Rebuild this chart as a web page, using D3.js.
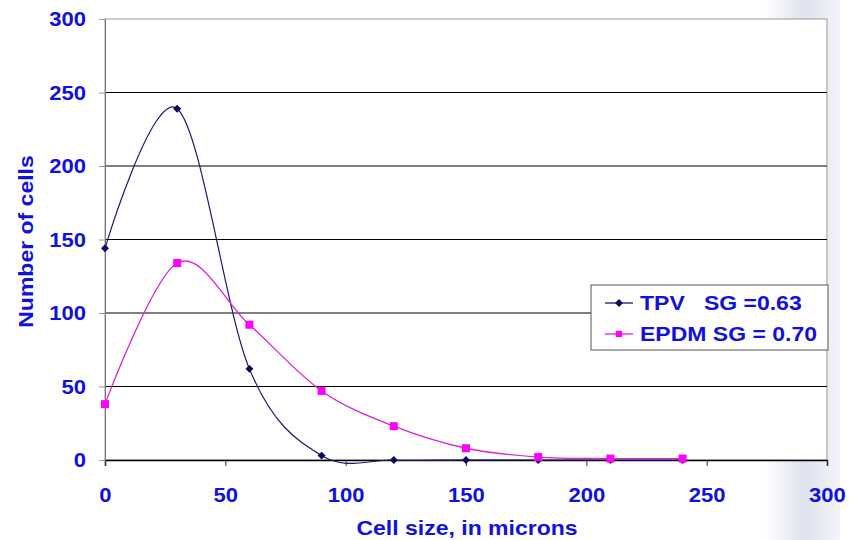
<!DOCTYPE html>
<html>
<head>
<meta charset="utf-8">
<style>
  body { margin: 0; background: #fff; }
  svg text { font-family: "Liberation Sans", Arial, sans-serif; font-weight: bold; fill: #1010e0; }
</style>
<script src="https://d3js.org/d3.v7.min.js"></script>
</head>
<body>
<svg width="850" height="540"></svg>
<script>
    // data
    var sizes = [0, 30, 60, 90, 120, 150, 180, 210, 240];
    var tpvValues = [144, 239, 62, 3, 0, 0, 0, 0, 0];
    var epdmValues = [38, 134, 92, 47, 23, 8, 2, 1, 1];
    var xTicks = [0, 50, 100, 150, 200, 250, 300];
    var yTicks = [0, 50, 100, 150, 200, 250, 300];
    var seriesNames = ["TPV   SG =0.63", "EPDM SG = 0.70"];

    var svg = d3.select("svg");
    var plotL = 105, plotR = 827, plotT = 19, plotB = 460;
    var stretch = 1.15; // title/legend text in the picture is a bit wide
    var tickStretch = 1.05;

    var x = d3.scaleLinear().domain([0, 300]).range([plotL, plotR]);
    var y = d3.scaleLinear().domain([0, 300]).range([plotB, plotT]);

    // faint watermark band on the right
    var grad = svg.append("defs").append("linearGradient")
        .attr("id", "wm").attr("x1", 0).attr("x2", 1);
    grad.append("stop").attr("offset", "0%").attr("stop-color", "#fff");
    grad.append("stop").attr("offset", "50%").attr("stop-color", "#dde2ee");
    grad.append("stop").attr("offset", "100%").attr("stop-color", "#f4f5f9");
    svg.append("rect").attr("x", 765).attr("y", 0).attr("width", 75).attr("height", 540)
        .attr("fill", "url(#wm)");

    // plot area
    svg.append("rect")
        .attr("x", plotL).attr("y", plotT)
        .attr("width", plotR - plotL).attr("height", plotB - plotT)
        .attr("fill", "#fff").attr("stroke", "#999").attr("stroke-width", 1);

    // gridlines
    svg.append("g").selectAll("line")
        .data(yTicks.filter(function (d) { return d > 0 && d < 300; }))
        .enter().append("line")
        .attr("x1", plotL).attr("x2", plotR)
        .attr("y1", function (d) { return y(d); })
        .attr("y2", function (d) { return y(d); })
        .attr("stroke", "#000").attr("stroke-width", 1);

    // axes
    var gx = svg.append("g")
        .attr("transform", "translate(0," + plotB + ")")
        .call(d3.axisBottom(x).tickValues(xTicks).tickSize(6).tickPadding(21));
    gx.select(".domain").attr("stroke", "#000").attr("stroke-width", 1.5);
    gx.selectAll(".tick line").attr("stroke", "#333");
    gx.selectAll("text").attr("font-size", "21px").attr("fill", "#1010e0")
        .attr("transform", "scale(" + tickStretch + ",1)");

    var gy = svg.append("g")
        .attr("transform", "translate(" + plotL + ",0)")
        .call(d3.axisLeft(y).tickValues(yTicks).tickSize(6).tickPadding(14));
    gy.select(".domain").attr("stroke", "#777");
    gy.selectAll(".tick line").attr("stroke", "#999");
    gy.selectAll("text").attr("font-size", "21px").attr("fill", "#1010e0")
        .attr("x", -19 / tickStretch)
        .attr("transform", "scale(" + tickStretch + ",1)");
    svg.selectAll(".domain").attr("fill", "none");

    svg.append("text")
        .attr("transform", "translate(33," + ((plotT + plotB) / 2 + 2) + ") rotate(-90) scale(" + stretch + ",1)")
        .attr("text-anchor", "middle")
        .attr("font-size", "20px")
        .text("Number of cells");
    svg.append("text")
        .attr("transform", "translate(" + ((plotL + plotR) / 2 + 1) + ",535) scale(" + stretch + ",1)")
        .attr("text-anchor", "middle")
        .attr("font-size", "20px")
        .text("Cell size, in microns");

    // smoothed series
    var line = d3.line()
        .x(function (d) { return x(d[0]); })
        .y(function (d) { return y(d[1]); })
        .curve(d3.curveCardinal.tension(0));

    var tpv = sizes.map(function (s, i) { return [s, tpvValues[i]]; });
    var epdm = sizes.map(function (s, i) { return [s, epdmValues[i]]; });

    svg.append("path").datum(tpv).attr("d", line)
        .attr("fill", "none").attr("stroke", "#1a1a70").attr("stroke-width", 1.2);
    svg.append("path").datum(epdm).attr("d", line)
        .attr("fill", "none").attr("stroke", "#e020d8").attr("stroke-width", 1.3);

    var diamond = d3.symbol().type(d3.symbolDiamond2).size(40);
    svg.append("g").selectAll("path")
        .data(tpv).enter().append("path")
        .attr("d", diamond)
        .attr("transform", function (d) { return "translate(" + x(d[0]) + "," + y(d[1]) + ")"; })
        .attr("fill", "#0a0a5a");
    svg.append("g").selectAll("rect")
        .data(epdm).enter().append("rect")
        .attr("x", function (d) { return x(d[0]) - 4; })
        .attr("y", function (d) { return y(d[1]) - 4; })
        .attr("width", 8).attr("height", 8)
        .attr("fill", "#ff00ff");

    // legend
    var lg = svg.append("g").attr("transform", "translate(591,285)");
    lg.append("rect").attr("width", 237).attr("height", 65)
        .attr("fill", "#fff").attr("stroke", "#555").attr("stroke-width", 1);
    var items = lg.selectAll(".item").data(seriesNames).enter().append("g")
        .attr("transform", function (d, i) { return "translate(0," + (18 + i * 31) + ")"; });
    items.append("line").attr("x1", 14).attr("x2", 42).attr("y1", 0).attr("y2", 0)
        .attr("stroke", function (d, i) { return i === 0 ? "#1a1a70" : "#e020d8"; })
        .attr("stroke-width", 1.3);
    items.append("path")
        .attr("d", function (d, i) { return i === 0 ? diamond() : d3.symbol().type(d3.symbolSquare).size(40)(); })
        .attr("transform", "translate(28,0)")
        .attr("fill", function (d, i) { return i === 0 ? "#0a0a5a" : "#ff00ff"; });
    items.append("text")
        .attr("transform", "translate(49,7) scale(" + stretch + ",1)")
        .attr("font-size", "20px")
        .attr("xml:space", "preserve")
        .style("white-space", "pre")
        .text(function (d) { return d; });
</script>
</body>
</html>
